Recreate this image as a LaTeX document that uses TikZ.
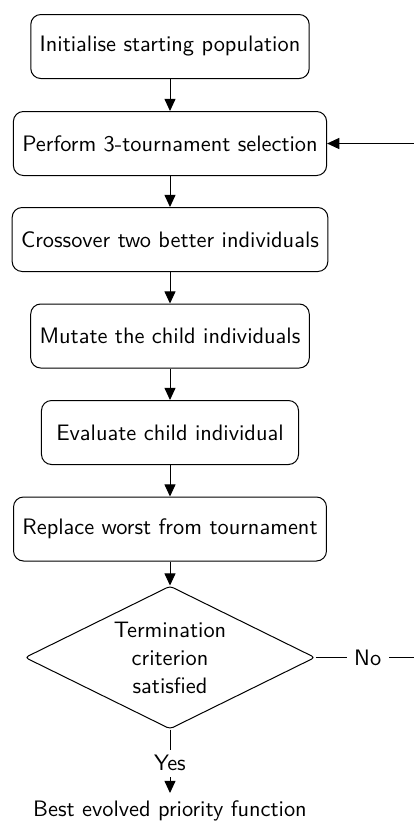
\documentclass[tikz,border=0pt]{standalone}
\usetikzlibrary{shapes.geometric,arrows.meta}
\begin{document}
\begin{tikzpicture}[x=0.45pt,y=-0.45pt,
  font=\fontsize{10.06}{12.6}\sffamily\selectfont,
  procbox/.style={draw, line width=0.45pt, rounded corners=4.5pt, minimum height=28.8pt, minimum width=115.65pt, inner xsep=4pt},
  decision/.style={draw, line width=0.45pt, diamond, shape aspect=2.03, minimum width=130.5pt, minimum height=64.35pt, inner sep=0pt, align=center, rounded corners=1.5pt},
  arr/.style={-{Triangle[length=5.5pt,width=5pt]}, line width=0.45pt},
  conn/.style={line width=0.45pt},
  lbl/.style={fill=white, inner sep=3.3pt},
  ylbl/.style={fill=white, inner xsep=3.3pt, inner ysep=2.5pt}]
\useasboundingbox (0,0) rectangle (414,821);
\node[procbox] (init) at (170,46.5) {Initialise starting population};
\node[procbox] (select) at (170,143.5) {Perform 3-tournament selection};
\node[procbox] (cross) at (170,239.5) {Crossover two better individuals};
\node[procbox] (mutate) at (170,336) {Mutate the child individuals};
\node[procbox] (eval) at (170,432.5) {Evaluate child individual};
\node[procbox] (replace) at (170,529) {Replace worst from tournament};
\node[decision] (term) at (170,657.5) {Termination\\criterion\\satisfied};
\node[anchor=north] (best) at (170,793) {Best evolved priority function};
\coordinate (loop) at (420,657.5);
\draw[arr] (init) -- (select);
\draw[arr] (select) -- (cross);
\draw[arr] (cross) -- (mutate);
\draw[arr] (mutate) -- (eval);
\draw[arr] (eval) -- (replace);
\draw[arr] (replace) -- (term);
\draw[conn] (term.east) -- node[lbl]{No} (loop);
\draw[arr] (loop) |- (select.east);
\draw[arr] (term.south) -- node[ylbl, pos=0.53]{Yes} (best.north);
\end{tikzpicture}
\end{document}
